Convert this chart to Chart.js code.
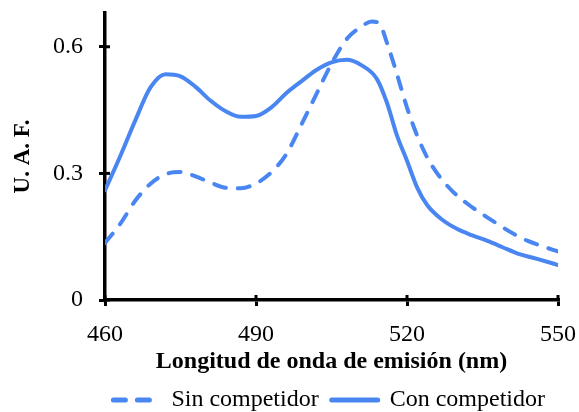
<!DOCTYPE html>
<html>
<head>
<meta charset="utf-8">
<script src="https://cdn.jsdelivr.net/npm/chart.js@4.4.1/dist/chart.umd.min.js"></script>
<style>
  html, body { margin: 0; padding: 0; background: #fff; }
  #wrap { width: 579px; height: 412px; }
</style>
</head>
<body>
<div id="wrap"><canvas id="c" width="579" height="412"></canvas></div>
<script>
// datos
const xTicks = [460, 490, 520, 550];
const yTicks = [0, 0.3, 0.6];

const sinNm = [460, 463, 466, 469, 472, 475, 478, 481, 484, 487, 490, 493, 496, 499, 502, 505, 508, 511, 513, 514.5, 516, 518, 520, 522, 524, 526, 529, 532, 535, 538, 541, 544, 547, 550];
const sinVal = [0.135, 0.18, 0.235, 0.275, 0.298, 0.303, 0.293, 0.278, 0.266, 0.265, 0.276, 0.302, 0.345, 0.415, 0.488, 0.56, 0.618, 0.648, 0.66, 0.655, 0.61, 0.535, 0.456, 0.39, 0.338, 0.30, 0.258, 0.228, 0.203, 0.18, 0.158, 0.14, 0.127, 0.115];

const conNm = [460, 463, 466, 469, 472, 475, 478, 481, 484, 487, 490, 493, 496, 499, 502, 505, 508, 511, 514, 516, 518, 520, 522, 524, 527, 530, 533, 536, 539, 542, 545, 548, 550];
const conVal = [0.26, 0.34, 0.425, 0.503, 0.535, 0.53, 0.505, 0.472, 0.447, 0.434, 0.436, 0.456, 0.49, 0.518, 0.545, 0.563, 0.569, 0.556, 0.524, 0.468, 0.39, 0.33, 0.267, 0.225, 0.19, 0.168, 0.153, 0.14, 0.125, 0.11, 0.1, 0.09, 0.083];

const BLUE = "#4a86f2";
const SERIF = "'Liberation Serif', 'Times New Roman', serif";

const pts = (xs, ys) => xs.map((x, i) => ({ x: x, y: ys[i] }));

// marcas de eje que cruzan la línea (parte interior)
const innerTicks = {
  id: "innerTicks",
  afterDraw(chart) {
    const { ctx, scales, chartArea } = chart;
    ctx.save();
    ctx.strokeStyle = "#000";
    ctx.lineWidth = 3;
    xTicks.forEach((v) => {
      const px = scales.x.getPixelForValue(v);
      ctx.beginPath();
      ctx.moveTo(px, chartArea.bottom);
      ctx.lineTo(px, chartArea.bottom - 5);
      ctx.stroke();
    });
    yTicks.forEach((v) => {
      const py = scales.y.getPixelForValue(v);
      ctx.beginPath();
      ctx.moveTo(chartArea.left, py);
      ctx.lineTo(chartArea.left + 5, py);
      ctx.stroke();
    });
    ctx.restore();
  },
};

new Chart(document.getElementById("c"), {
  type: "line",
  data: {
    datasets: [
      {
        label: "Sin competidor",
        data: pts(sinNm, sinVal),
        borderColor: BLUE,
        backgroundColor: BLUE,
        borderWidth: 4,
        borderDash: [12, 12],
        borderCapStyle: "round",
        pointRadius: 0,
        cubicInterpolationMode: "monotone",
        fill: false,
      },
      {
        label: "Con competidor",
        data: pts(conNm, conVal),
        borderColor: BLUE,
        backgroundColor: BLUE,
        borderWidth: 4,
        borderCapStyle: "round",
        pointRadius: 0,
        cubicInterpolationMode: "monotone",
        fill: false,
      },
    ],
  },
  options: {
    responsive: false,
    animation: false,
    layout: { padding: { top: 13, right: 21, left: 0, bottom: -10 } },
    plugins: {
      tooltip: { enabled: false },
      legend: {
        position: "bottom",
        align: "end",
        labels: {
          usePointStyle: true,
          pointStyle: "line",
          pointStyleWidth: 46,
          color: "#000",
          padding: 13,
          font: { family: SERIF, size: 24 },
          generateLabels(chart) {
            return chart.data.datasets.map((ds, i) => ({
              text: ds.label,
              fillStyle: BLUE,
              strokeStyle: BLUE,
              lineWidth: 5,
              lineDash: ds.borderDash || [],
              lineCap: "round",
              pointStyle: "line",
              datasetIndex: i,
              fontColor: "#000",
            }));
          },
        },
      },
    },
    scales: {
      x: {
        type: "linear",
        min: 460,
        max: 550,
        afterBuildTicks: (s) => { s.ticks = xTicks.map((v) => ({ value: v })); },
        afterFit: (s) => {
          s.height = 412 + 10 - 300 - s.chart.legend.height;
          s.paddingLeft = 0;
          s.paddingRight = 0;
        },
        border: { display: true, color: "#000", width: 3.5 },
        grid: { drawOnChartArea: false, color: "#000", lineWidth: 3, tickLength: 6 },
        ticks: { color: "#000", padding: 14, font: { family: SERIF, size: 24 }, maxRotation: 0 },
        title: {
          display: true,
          text: "Longitud de onda de emisión (nm)",
          color: "#000",
          font: { family: SERIF, size: 24, weight: "bold" },
          padding: { top: 0, bottom: -1 },
        },
      },
      y: {
        type: "linear",
        min: 0,
        max: 0.68,
        afterBuildTicks: (s) => { s.ticks = yTicks.map((v) => ({ value: v })); },
        afterFit: (s) => {
          s.width = 105;
          s.paddingTop = 0;
          s.paddingBottom = 0;
        },
        border: { display: true, color: "#000", width: 3.5 },
        grid: { drawOnChartArea: false, color: "#000", lineWidth: 3, tickLength: 6 },
        ticks: {
          color: "#000",
          padding: 16,
          font: { family: SERIF, size: 24 },
          callback: (v) => String(v),
        },
        title: {
          display: true,
          text: "U. A. F.",
          color: "#000",
          font: { family: SERIF, size: 23, weight: "bold" },
          padding: { top: 9, bottom: 0 },
        },
      },
    },
  },
  plugins: [innerTicks],
});
</script>
</body>
</html>
